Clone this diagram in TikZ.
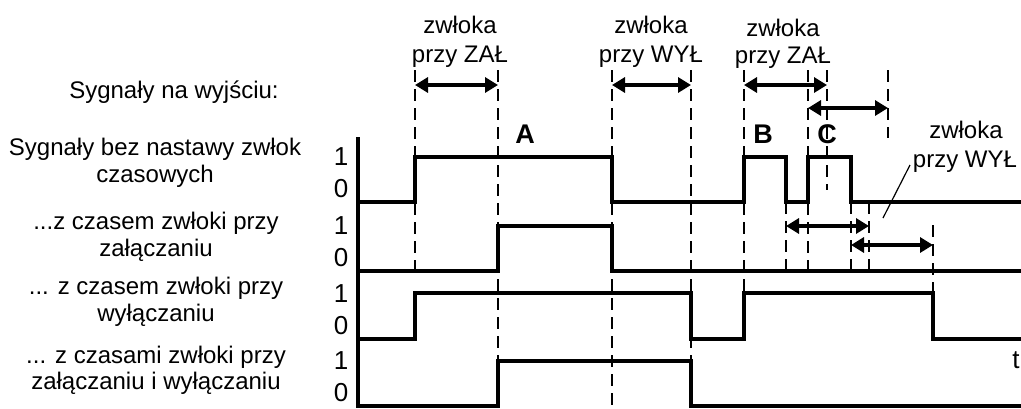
\documentclass[tikz,border=0pt]{standalone}
\usepackage{fontspec}
\setmainfont{Liberation Sans}
\usetikzlibrary{arrows.meta}
\begin{document}
\begin{tikzpicture}[x=1pt,y=-1pt,
  lbl/.style={font=\fontsize{24}{28}\selectfont, anchor=base, inner sep=0pt},
  dig/.style={font=\fontsize{26}{28}\selectfont, anchor=base, inner sep=0pt},
  bigl/.style={font=\fontsize{27}{28}\selectfont\bfseries, anchor=base, inner sep=0pt},
  sig/.style={line width=3.5pt, line join=miter},
  guide/.style={line width=2.8pt, dash pattern=on 12pt off 7pt},
  dimarrow/.style={line width=3.2pt, {Triangle[length=13pt,width=15pt]}-{Triangle[length=13pt,width=15pt]}},
  leader/.style={line width=1.2pt}]
\useasboundingbox (0,0) rectangle (1021,408);

% left labels
\node[lbl] (h) at (174,98) {Sygnały na wyjściu:};
\node[lbl] (s1a) at (155,155) {Sygnały bez nastawy zwłok};
\node[lbl] (s1b) at (155,182) {czasowych};
\node[lbl] (s2a) at (156,229) {...z czasem zwłoki przy};
\node[lbl] (s2b) at (156,256) {załączaniu};
\node[lbl] (s3a) at (156,294) {... z czasem zwłoki przy};
\node[lbl] (s3b) at (156,321) {wyłączaniu};
\node[lbl] (s4a) at (156,363) {... z czasami zwłoki przy};
\node[lbl] (s4b) at (156,389) {załączaniu i wyłączaniu};

% 1 / 0 labels
\foreach \b/\n in {202/a,271/b,339/c,406/d}{
  \node[dig] (one\n) at (341,\b-37) {1};
  \node[dig] (zero\n) at (341,\b-5) {0};
}

% top labels
\node[lbl] (z1a) at (460,33) {zwłoka};
\node[lbl] (z1b) at (460,62) {przy ZAŁ};
\node[lbl] (z2a) at (651,33) {zwłoka};
\node[lbl] (z2b) at (651,62) {przy WYŁ};
\node[lbl] (z3a) at (783,36) {zwłoka};
\node[lbl] (z3b) at (783,63) {przy ZAŁ};
\node[lbl] (z4a) at (966,138) {zwłoka};
\node[lbl] (z4b) at (965,167) {przy WYŁ};

\node[bigl] (A) at (525,143) {A};
\node[bigl] (B) at (763,143) {B};
\node[dig] (t) at (1016,368) {t};

% dashed guides
\draw[guide] (415,70) -- (415,271);
\draw[guide] (498,70) -- (498,406);
\draw[guide] (612,70) -- (612,406);
\draw[guide] (691,70) -- (691,361);
\draw[guide] (744,70) -- (744,293);
\draw[guide] (786,202) -- (786,271);
\draw[guide] (808,70) -- (808,271);
\draw[guide] (827,70) -- (827,190);
\draw[guide] (851,202) -- (851,271);
\draw[guide] (869,202) -- (869,271);
\draw[guide] (888,70) -- (888,138);
\draw[guide] (933,225) -- (933,293);

\node[bigl] (C) at (827,143) {C};

% axis
\draw[sig] (358,137) -- (358,407.5);

% signals
\draw[sig] (358,202) -- (415,202) -- (415,157) -- (612,157) -- (612,202) -- (744,202)
  -- (744,157) -- (786,157) -- (786,202) -- (808,202) -- (808,157) -- (851,157) -- (851,202) -- (1021,202);
\draw[sig] (358,271) -- (498,271) -- (498,226) -- (612,226) -- (612,271) -- (1021,271);
\draw[sig] (358,339) -- (415,339) -- (415,293) -- (691,293) -- (691,339) -- (744,339)
  -- (744,293) -- (933,293) -- (933,339) -- (1021,339);
\draw[sig] (358,406) -- (498,406) -- (498,361) -- (691,361) -- (691,406) -- (1021,406);

% dimension arrows
\coordinate (a1l) at (415,85);  \coordinate (a1r) at (498,85);
\coordinate (a2l) at (612,85);  \coordinate (a2r) at (691,85);
\coordinate (a3l) at (744,85);  \coordinate (a3r) at (827,85);
\coordinate (a4l) at (808,108); \coordinate (a4r) at (888,108);
\coordinate (a5l) at (786,226); \coordinate (a5r) at (869,226);
\coordinate (a6l) at (851,245); \coordinate (a6r) at (933,245);
\draw[dimarrow] (a1l) -- (a1r);
\draw[dimarrow] (a2l) -- (a2r);
\draw[dimarrow] (a3l) -- (a3r);
\draw[dimarrow] (a4l) -- (a4r);
\draw[dimarrow] (a5l) -- (a5r);
\draw[dimarrow] (a6l) -- (a6r);

% leader
\coordinate (ld) at (883,218);
\draw[leader] (910,165) -- (ld);
\end{tikzpicture}
\end{document}
